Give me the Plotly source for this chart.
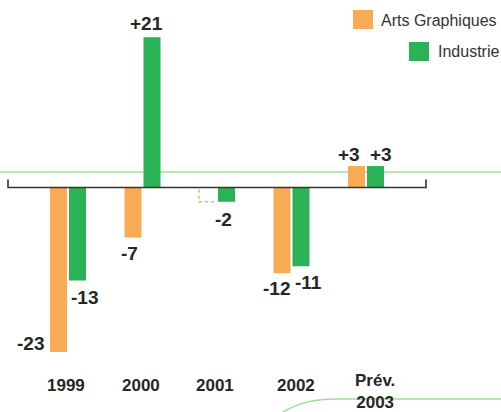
import plotly.graph_objects as go

# ---- data ----
years = ["1999", "2000", "2001", "2002", "Prév.<br>2003"]
arts_graphiques = [-23, -7, None, -12, 3]
industrie = [-13, 21, -2, -11, 3]
arts_placeholder = [None, None, -2, None, None]   # dashed outline, no label
arts_labels = ["-23", "-7", "", "-12", "+3"]
industrie_labels = ["-13", "+21", "-2", "-11", "+3"]

ORANGE = "#F9AA55"
GREEN = "#2BB256"
TEXT = "#262626"
FONT = "Liberation Sans, Arial, sans-serif"

W, H = 501, 412
PX_PER_GROUP = 74.5
PX_PER_UNIT = 7.15
X0_PX = 68          # pixel of first group centre
ZERO_PX = 187.5     # pixel of zero line
BAR_W = 17 / PX_PER_GROUP
GAP = 1 / PX_PER_GROUP

idx = list(range(len(years)))

fig = go.Figure()
fig.add_trace(go.Bar(
    x=idx, y=arts_graphiques, name="Arts Graphiques",
    marker=dict(color=ORANGE, line=dict(width=0)),
    width=BAR_W, offset=-BAR_W - GAP, showlegend=False, hoverinfo="y"))
fig.add_trace(go.Bar(
    x=idx, y=industrie, name="Industrie",
    marker=dict(color=GREEN, line=dict(width=0)),
    width=BAR_W, offset=GAP, showlegend=False, hoverinfo="y"))

# dashed outline for the 2001 Arts Graphiques placeholder
for i, v in zip(idx, arts_placeholder):
    if v is None:
        continue
    left = i - BAR_W - GAP
    right = i - GAP
    fig.add_trace(go.Scatter(
        x=[left, left, right], y=[-0.3, v, v], mode="lines",
        line=dict(color=ORANGE, width=1.5, dash="3px,3px"),
        showlegend=False, hoverinfo="skip"))

# value labels (shift in px from the bar end)
arts_shift = [(-28.5, 8), (-3.5, -15.5), (0, 0), (-5.5, -15), (-7.5, 11.5)]
ind_shift = [(6.5, -17), (-5.5, 14), (-3, -17.5), (7, -16), (5, 11.5)]
centre_off = BAR_W / 2 + GAP
for i in idx:
    for vals, labs, shifts, off in ((arts_graphiques, arts_labels, arts_shift, -centre_off),
                                    (industrie, industrie_labels, ind_shift, centre_off)):
        if vals[i] is None or not labs[i]:
            continue
        fig.add_annotation(
            x=i + off, y=vals[i], text=labs[i], showarrow=False,
            xshift=shifts[i][0], yshift=shifts[i][1],
            xanchor="center", yanchor="middle",
            font=dict(family=FONT, size=19, color=TEXT, weight="bold"))

# category labels
cat_shift = [-2, -1.5, -2.5, 4.5, 8.7]
cat_y = [385, 385, 385, 385, 391]
for i, lab in enumerate(years):
    fig.add_annotation(
        x=i, y=1 - cat_y[i] / H, yref="paper", text=lab, showarrow=False,
        xshift=cat_shift[i], xanchor="center", yanchor="middle",
        font=dict(family=FONT, size=17, color=TEXT, weight="bold"))

# legend (manual, right aligned)
legend_items = [("Arts Graphiques", ORANGE, 353, 10, 379, 21),
                ("Industrie", GREEN, 409, 42, 436, 52)]
for name, col, sx, sy, tx, ty in legend_items:
    fig.add_shape(type="rect", xref="paper", yref="paper",
                  x0=sx / W, x1=(sx + 20) / W, y0=1 - sy / H, y1=1 - (sy + 19) / H,
                  fillcolor=col, line=dict(width=0))
    fig.add_annotation(x=tx / W, y=1 - ty / H, xref="paper", yref="paper",
                       text=name, showarrow=False, xanchor="left", yanchor="middle",
                       font=dict(family=FONT, size=16, color="#333333"))

# decorative green lines
fig.add_shape(type="line", xref="paper", yref="paper", x0=0, x1=1,
              y0=1 - 172 / H, y1=1 - 172 / H,
              line=dict(color="#A6DB9C", width=1.5), layer="below")
fig.add_shape(type="path", xref="paper", yref="paper",
              path=f"M {283/W},{1-412/H} Q {305/W},{1-399/H} {335/W},{1-399/H} L 1,{1-399/H}",
              line=dict(color="#A6DB9C", width=1.5))

# black bracket at zero
br_l = -(68 - 8) / PX_PER_GROUP
br_r = len(years) - 1 + (68 - 8) / PX_PER_GROUP
tick_h = 8 / PX_PER_UNIT
fig.add_shape(type="path", xref="x", yref="y",
              path=f"M {br_l},{tick_h} L {br_l},0 L {br_r},0 L {br_r},{tick_h}",
              line=dict(color="#333333", width=1.6), layer="above")

fig.update_layout(
    width=W, height=H, margin=dict(l=0, r=0, t=0, b=0),
    paper_bgcolor="white", plot_bgcolor="white",
    barmode="overlay", showlegend=False,
    xaxis=dict(range=[-X0_PX / PX_PER_GROUP, (W - X0_PX) / PX_PER_GROUP],
               visible=False, fixedrange=True),
    yaxis=dict(range=[-(H - ZERO_PX) / PX_PER_UNIT, ZERO_PX / PX_PER_UNIT],
               visible=False, fixedrange=True, zeroline=False),
)

fig.write_html("out.html", config={"displayModeBar": False},
               post_script="document.body.style.margin='0';document.body.style.overflow='hidden';")
